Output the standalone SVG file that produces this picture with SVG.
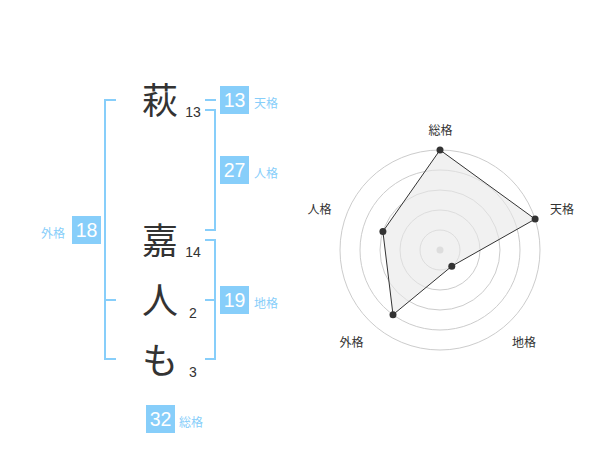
<svg xmlns="http://www.w3.org/2000/svg" width="600" height="470" viewBox="0 0 600 470">
<style>
.kanji{font-family:"Noto Sans CJK JP","Noto Sans CJK SC",sans-serif;font-size:36px;fill:#333;text-anchor:middle}
.stroke{font-family:"Liberation Sans",Arial,sans-serif;font-size:14px;fill:#333;text-anchor:middle}
.box{fill:#87cefa}
.num{font-family:"Liberation Sans",Arial,sans-serif;font-size:19.5px;fill:#fff;text-anchor:middle}
.lbl{font-family:"Noto Sans CJK JP","Noto Sans CJK SC",sans-serif;font-size:12px;fill:#87cefa}
.br{fill:none;stroke:#87cefa;stroke-width:2}
.grid{fill:none;stroke:#cccccc;stroke-width:1}
.axis{font-family:"Noto Sans CJK JP","Noto Sans CJK SC",sans-serif;font-size:12px;fill:#333;text-anchor:middle}
.pt{fill:#333}
</style>
<g id="connectors">
<polyline class="br" points="116,100 105,100 105,359 116,359"/>
<line class="br" x1="105" y1="300" x2="116" y2="300"/>
<line class="br" x1="205" y1="100" x2="216" y2="100"/>
<polyline class="br" points="205,110 215,110 215,230 205,230"/>
<polyline class="br" points="205,240 215,240 215,359 205,359"/>
<line class="br" x1="205" y1="300" x2="215" y2="300"/>
</g>
<g id="char1"><text class="kanji" x="160" y="114">萩</text><text class="stroke" x="193" y="117">13</text></g>
<g id="char2"><text class="kanji" x="160" y="254">嘉</text><text class="stroke" x="193" y="257">14</text></g>
<g id="char3"><text class="kanji" x="160" y="314">人</text><text class="stroke" x="193" y="318">2</text></g>
<g id="char4"><text class="kanji" x="160" y="374">も</text><text class="stroke" x="193" y="377">3</text></g>
<g id="tenkaku"><rect class="box" x="220" y="86" width="29" height="28"/><text class="num" x="234.5" y="107">13</text><text class="lbl" x="254" y="108">天格</text></g>
<g id="jinkaku"><rect class="box" x="220" y="156" width="29" height="28"/><text class="num" x="234.5" y="177">27</text><text class="lbl" x="254" y="178">人格</text></g>
<g id="gaikaku"><rect class="box" x="72" y="216" width="29" height="28"/><text class="num" x="86.5" y="237">18</text><text class="lbl" x="41" y="238">外格</text></g>
<g id="chikaku"><rect class="box" x="220" y="286" width="29" height="28"/><text class="num" x="234.5" y="307">19</text><text class="lbl" x="254" y="308">地格</text></g>
<g id="soukaku"><rect class="box" x="146" y="405" width="29" height="28"/><text class="num" x="160.5" y="426">32</text><text class="lbl" x="179" y="427">総格</text></g>
<g id="radar">
<circle class="grid" cx="440" cy="250" r="20"/>
<circle class="grid" cx="440" cy="250" r="40"/>
<circle class="grid" cx="440" cy="250" r="60"/>
<circle class="grid" cx="440" cy="250" r="80"/>
<circle class="grid" cx="440" cy="250" r="100"/>
<circle cx="440" cy="250" r="3.5" fill="#cccccc"/>
<polygon points="440,150 535.1,219.1 451.8,266.2 393,314.7 382.9,231.5" fill="#e8e8e8" fill-opacity="0.6" stroke="#333" stroke-width="1"/>
<circle class="pt" cx="440" cy="150" r="3.5"/>
<circle class="pt" cx="535.1" cy="219.1" r="3.5"/>
<circle class="pt" cx="451.8" cy="266.2" r="3.5"/>
<circle class="pt" cx="393" cy="314.7" r="3.5"/>
<circle class="pt" cx="382.9" cy="231.5" r="3.5"/>
<text class="axis" x="440.5" y="135">総格</text>
<text class="axis" x="562" y="213.5">天格</text>
<text class="axis" x="319.5" y="213.5">人格</text>
<text class="axis" x="351.5" y="346.5">外格</text>
<text class="axis" x="524" y="346.5">地格</text>
</g>
</svg>
